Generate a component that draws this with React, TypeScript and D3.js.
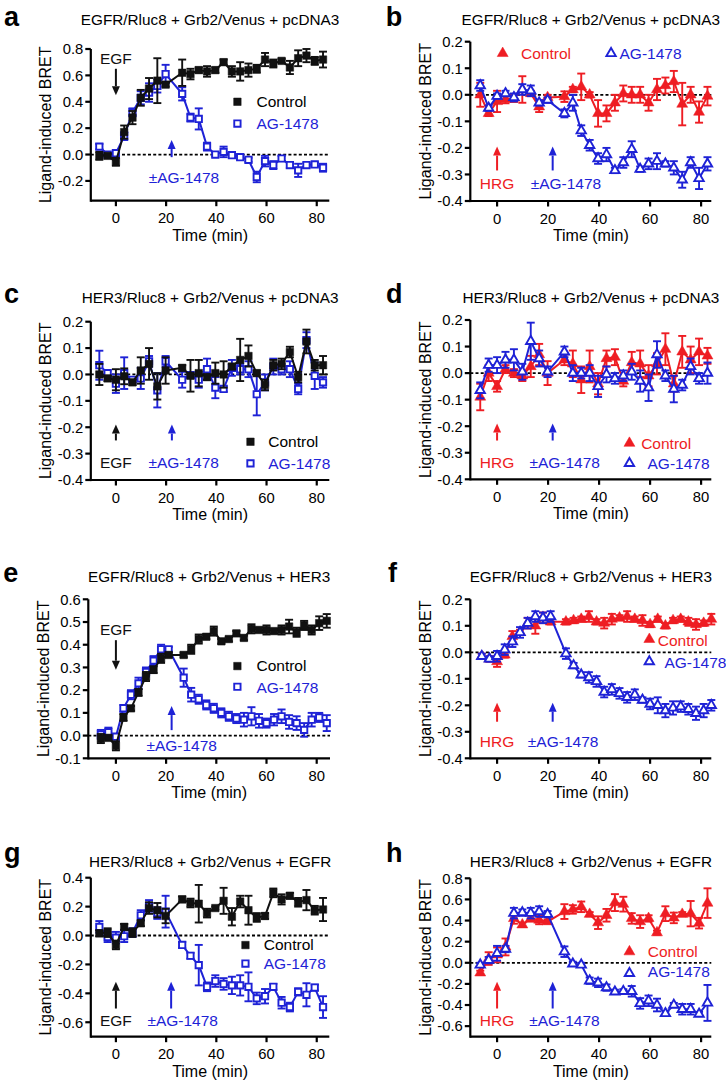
import * as d3 from "d3";

const FONT = "'Liberation Sans', Arial, Helvetica, sans-serif";
const BLACK = "#111111";
const RED = "#ee1d23";
const BLUE = "#1e22d6";

// sampling times (min); no reading while the inhibitor was added
const T_33 = [-6.6, -3.3, 0, 3.3, 6.6, 9.9, 13.2, 16.5, 19.8, 26.4, 29.7, 33, 36.3, 39.6, 42.9, 46.2, 49.5, 52.8, 56.1, 59.4, 62.7, 66, 69.3, 72.6, 75.9, 79.2, 82.5];
const T_3 = [-6, -3, 0, 3, 6, 9, 12, 15, 18, 21, 27, 30, 33, 36, 39, 42, 45, 48, 51, 54, 57, 60, 63, 66, 69, 72, 75, 78, 81, 84];
const X_TICKS = [0, 20, 40, 60, 80];

// a: EGFR/Rluc8 + Grb2/Venus + pcDNA3, EGF
const A_CTRL = [-0.01, -0.01, -0.055, 0.17, 0.28, 0.43, 0.5, 0.56, 0.53, 0.62, 0.61, 0.64, 0.63, 0.64, 0.7, 0.63, 0.63, 0.64, 0.65, 0.72, 0.69, 0.71, 0.66, 0.73, 0.75, 0.71, 0.72];
const A_CTRL_ERR = [0.03, 0.015, 0.03, 0.05, 0.05, 0.06, 0.08, 0.17, 0.015, 0.1, 0.04, 0.02, 0.04, 0.02, 0.02, 0.04, 0.07, 0.05, 0.03, 0.05, 0.03, 0.015, 0.05, 0.06, 0.05, 0.03, 0.06];
const A_AG = [0.06, 0.0, 0.01, 0.14, 0.32, 0.43, 0.47, 0.52, 0.61, 0.46, 0.28, 0.27, 0.06, 0.0, 0.02, -0.005, -0.02, -0.04, -0.17, -0.05, -0.08, -0.03, -0.08, -0.12, -0.08, -0.075, -0.1];
const A_AG_ERR = [0.02, 0.015, 0.015, 0.03, 0.03, 0.05, 0.07, 0.05, 0.07, 0.05, 0.03, 0.08, 0.03, 0.015, 0.04, 0.015, 0.015, 0.015, 0.04, 0.04, 0.03, 0.02, 0.02, 0.05, 0.015, 0.015, 0.03];
const A_TICKS = [-0.2, 0, 0.2, 0.4, 0.6, 0.8];

// b: EGFR/Rluc8 + Grb2/Venus + pcDNA3, HRG
const B_CTRL = [0.0, -0.07, -0.025, -0.017, -0.012, 0.02, 0.005, -0.045, -0.01, -0.007, 0.02, 0.03, 0.0, -0.07, -0.07, -0.03, 0.005, 0.0, 0.0, -0.03, 0.02, 0.035, 0.05, -0.035, 0.0, -0.065, -0.005];
const B_CTRL_ERR = [0.045, 0.01, 0.04, 0.015, 0.015, 0.05, 0.01, 0.02, 0.01, 0.02, 0.01, 0.05, 0.01, 0.05, 0.03, 0.03, 0.03, 0.03, 0.03, 0.03, 0.04, 0.03, 0.04, 0.08, 0.03, 0.04, 0.035];
const B_AG = [0.035, -0.05, -0.005, 0.005, -0.01, 0.02, 0.015, -0.03, -0.02, -0.07, -0.03, -0.135, -0.19, -0.24, -0.225, -0.285, -0.255, -0.205, -0.28, -0.26, -0.25, -0.26, -0.275, -0.32, -0.255, -0.315, -0.26];
const B_AG_ERR = [0.02, 0.01, 0.01, 0.01, 0.015, 0.02, 0.02, 0.01, 0.01, 0.015, 0.03, 0.02, 0.02, 0.02, 0.025, 0.01, 0.02, 0.03, 0.01, 0.02, 0.03, 0.01, 0.025, 0.03, 0.02, 0.04, 0.025];

// c: HER3/Rluc8 + Grb2/Venus + pcDNA3, EGF
const C_CTRL = [0.0, -0.015, -0.02, -0.007, -0.03, 0.015, 0.04, -0.045, 0.015, 0.025, -0.005, 0.005, -0.01, 0.005, 0.0, 0.03, 0.055, 0.07, 0.005, -0.04, 0.035, 0.04, 0.085, -0.01, 0.125, 0.035, 0.035];
const C_CTRL_ERR = [0.04, 0.01, 0.04, 0.03, 0.01, 0.05, 0.06, 0.05, 0.05, 0.01, 0.06, 0.05, 0.01, 0.04, 0.05, 0.01, 0.08, 0.04, 0.01, 0.02, 0.02, 0.02, 0.02, 0.02, 0.045, 0.02, 0.035];
const C_AG = [0.035, 0.005, -0.035, 0.005, -0.02, -0.015, 0.05, -0.06, 0.05, -0.02, -0.002, -0.02, 0.02, -0.05, -0.055, 0.025, 0.02, 0.02, -0.075, -0.03, 0.03, 0.02, 0.02, -0.055, 0.13, -0.005, -0.03];
const C_AG_ERR = [0.055, 0.01, 0.035, 0.06, 0.01, 0.04, 0.02, 0.065, 0.02, 0.03, 0.01, 0.03, 0.04, 0.04, 0.01, 0.03, 0.02, 0.03, 0.08, 0.03, 0.03, 0.02, 0.03, 0.02, 0.03, 0.05, 0.02];

// d: HER3/Rluc8 + Grb2/Venus + pcDNA3, HRG
const D_CTRL = [-0.09, 0.0, -0.05, 0.015, 0.0, -0.01, 0.025, 0.07, 0.0, 0.05, 0.035, -0.025, 0.025, -0.04, 0.055, 0.06, -0.03, 0.04, 0.035, -0.01, 0.035, 0.09, -0.04, 0.08, 0.05, 0.08, 0.065];
const D_CTRL_ERR = [0.05, 0.03, 0.02, 0.015, 0.015, 0.02, 0.04, 0.04, 0.045, 0.02, 0.05, 0.05, 0.06, 0.04, 0.03, 0.03, 0.02, 0.04, 0.05, 0.04, 0.04, 0.06, 0.03, 0.06, 0.05, 0.05, 0.03];
const D_AG = [-0.065, 0.03, 0.03, 0.05, 0.05, 0.005, 0.12, 0.055, 0.005, 0.08, 0.0, 0.0, 0.0, -0.05, -0.005, -0.02, -0.01, 0.005, -0.03, -0.055, 0.07, -0.01, -0.06, -0.045, 0.025, -0.02, 0.0];
const D_AG_ERR = [0.03, 0.025, 0.03, 0.03, 0.04, 0.03, 0.07, 0.03, 0.02, 0.02, 0.03, 0.02, 0.03, 0.04, 0.03, 0.02, 0.02, 0.03, 0.04, 0.05, 0.05, 0.02, 0.05, 0.02, 0.03, 0.02, 0.04];
const SMALL_TICKS = [-0.4, -0.3, -0.2, -0.1, 0, 0.1, 0.2];

// e: EGFR/Rluc8 + Grb2/Venus + HER3, EGF
const E_CTRL = [-0.013, -0.01, -0.045, 0.08, 0.12, 0.19, 0.26, 0.29, 0.34, 0.355, 0.355, 0.38, 0.425, 0.435, 0.46, 0.415, 0.425, 0.45, 0.43, 0.47, 0.465, 0.465, 0.46, 0.465, 0.48, 0.455, 0.485, 0.465, 0.495, 0.505];
const E_CTRL_ERR = [0.02, 0.01, 0.02, 0.015, 0.01, 0.015, 0.02, 0.015, 0.02, 0.01, 0.01, 0.02, 0.02, 0.01, 0.02, 0.01, 0.01, 0.01, 0.01, 0.02, 0.01, 0.02, 0.01, 0.02, 0.03, 0.02, 0.02, 0.02, 0.03, 0.03];
const E_AG = [0.005, 0.015, -0.005, 0.12, 0.18, 0.23, 0.28, 0.33, 0.38, 0.38, 0.255, 0.18, 0.16, 0.135, 0.12, 0.1, 0.085, 0.075, 0.07, 0.085, 0.065, 0.055, 0.07, 0.085, 0.06, 0.055, 0.025, 0.07, 0.08, 0.055];
const E_AG_ERR = [0.02, 0.02, 0.01, 0.015, 0.02, 0.025, 0.02, 0.02, 0.02, 0.01, 0.04, 0.03, 0.02, 0.02, 0.02, 0.02, 0.02, 0.02, 0.03, 0.04, 0.03, 0.02, 0.025, 0.03, 0.03, 0.03, 0.03, 0.03, 0.02, 0.035];
const E_TICKS = [-0.1, 0, 0.1, 0.2, 0.3, 0.4, 0.5, 0.6];

// f: EGFR/Rluc8 + Grb2/Venus + HER3, HRG
const F_CTRL = [-0.015, -0.025, -0.035, -0.01, 0.06, 0.075, 0.11, 0.1, 0.13, 0.115, 0.115, 0.12, 0.125, 0.135, 0.115, 0.11, 0.125, 0.13, 0.135, 0.125, 0.12, 0.105, 0.125, 0.1, 0.12, 0.125, 0.115, 0.105, 0.11, 0.125];
const F_CTRL_ERR = [0.01, 0.01, 0.02, 0.01, 0.02, 0.01, 0.02, 0.03, 0.02, 0.01, 0.01, 0.01, 0.01, 0.02, 0.01, 0.02, 0.02, 0.01, 0.02, 0.01, 0.02, 0.01, 0.01, 0.01, 0.01, 0.01, 0.015, 0.02, 0.01, 0.02];
const F_AG = [-0.015, -0.025, -0.015, 0.01, 0.04, 0.075, 0.11, 0.135, 0.13, 0.135, -0.005, -0.05, -0.085, -0.095, -0.11, -0.15, -0.14, -0.155, -0.17, -0.16, -0.18, -0.195, -0.2, -0.22, -0.21, -0.205, -0.215, -0.23, -0.22, -0.2];
const F_AG_ERR = [0.01, 0.01, 0.02, 0.02, 0.02, 0.02, 0.02, 0.02, 0.02, 0.02, 0.02, 0.01, 0.01, 0.02, 0.02, 0.02, 0.02, 0.02, 0.02, 0.02, 0.01, 0.02, 0.03, 0.025, 0.025, 0.02, 0.02, 0.025, 0.025, 0.02];

// g: HER3/Rluc8 + Grb2/Venus + EGFR, EGF
const G_CTRL = [0.015, 0.02, -0.065, 0.06, 0.02, 0.085, 0.19, 0.175, 0.135, 0.25, 0.225, 0.22, 0.155, 0.19, 0.24, 0.13, 0.235, 0.175, 0.125, 0.135, 0.295, 0.25, 0.275, 0.23, 0.245, 0.175, 0.18];
const G_CTRL_ERR = [0.02, 0.03, 0.03, 0.02, 0.03, 0.02, 0.04, 0.05, 0.05, 0.02, 0.03, 0.13, 0.03, 0.01, 0.09, 0.06, 0.04, 0.1, 0.03, 0.02, 0.03, 0.035, 0.02, 0.03, 0.07, 0.03, 0.08];
const G_AG = [0.06, -0.01, -0.015, -0.005, 0.02, 0.14, 0.205, 0.155, 0.165, -0.065, -0.14, -0.205, -0.355, -0.315, -0.335, -0.345, -0.345, -0.355, -0.435, -0.42, -0.355, -0.465, -0.495, -0.39, -0.41, -0.36, -0.495];
const G_AG_ERR = [0.04, 0.035, 0.04, 0.04, 0.03, 0.035, 0.04, 0.04, 0.11, 0.02, 0.02, 0.14, 0.03, 0.04, 0.04, 0.06, 0.07, 0.1, 0.04, 0.05, 0.02, 0.04, 0.03, 0.025, 0.08, 0.02, 0.075];
const G_TICKS = [-0.6, -0.4, -0.2, 0, 0.2, 0.4];

// h: HER3/Rluc8 + Grb2/Venus + EGFR, HRG
const H_CTRL = [-0.095, 0.04, 0.075, 0.15, 0.42, 0.36, 0.42, 0.405, 0.39, 0.485, 0.505, 0.53, 0.46, 0.38, 0.45, 0.57, 0.555, 0.42, 0.39, 0.42, 0.285, 0.465, 0.425, 0.46, 0.465, 0.375, 0.565];
const H_CTRL_ERR = [0.02, 0.06, 0.07, 0.08, 0.05, 0.02, 0.03, 0.04, 0.02, 0.07, 0.04, 0.05, 0.02, 0.06, 0.06, 0.08, 0.07, 0.05, 0.06, 0.03, 0.02, 0.07, 0.05, 0.02, 0.12, 0.05, 0.14];
const H_AG = [-0.02, 0.025, 0.09, 0.13, 0.47, 0.475, 0.47, 0.485, 0.46, 0.105, -0.01, -0.02, -0.17, -0.19, -0.235, -0.275, -0.27, -0.27, -0.385, -0.36, -0.4, -0.48, -0.4, -0.44, -0.44, -0.485, -0.38];
const H_AG_ERR = [0.02, 0.03, 0.07, 0.03, 0.05, 0.03, 0.05, 0.05, 0.03, 0.05, 0.02, 0.02, 0.03, 0.04, 0.03, 0.02, 0.02, 0.05, 0.05, 0.05, 0.06, 0.02, 0.02, 0.05, 0.05, 0.02, 0.17];
const H_TICKS = [-0.6, -0.4, -0.2, 0, 0.2, 0.4, 0.6, 0.8];

type Label = { text: string; color: string; x: number; y: number };
type Arrow = { color: string; x: number; from: number; to: number };
type Legend = { mx: number; my: number; tx: number; ty: number };

type Panel = {
  letter: string;
  letterPos: [number, number];
  title: string;
  titleY: number;
  xDomain: [number, number];
  xRange: [number, number];
  yDomain: [number, number];
  yRange: [number, number];
  yTicks: number[];
  time: number[];
  ctrl: number[];
  ctrlErr: number[];
  ag: number[];
  agErr: number[];
  ctrlColor: string;
  shape: "square" | "triangle";
  labels: Label[];
  arrows: Arrow[];
  legCtrl: Legend;
  legAg: Legend;
};

const LEFT_X: [number, number] = [90.8, 329.3];
const RIGHT_X: [number, number] = [470.3, 711.3];

const panels: Panel[] = [
  {
    letter: "a", letterPos: [4, 26], title: "EGFR/Rluc8 + Grb2/Venus + pcDNA3", titleY: 25,
    xDomain: [-10, 85], xRange: LEFT_X, yDomain: [-0.35, 0.8], yRange: [200.7, 49], yTicks: A_TICKS,
    time: T_33, ctrl: A_CTRL, ctrlErr: A_CTRL_ERR, ag: A_AG, agErr: A_AG_ERR, ctrlColor: BLACK, shape: "square",
    labels: [
      { text: "EGF", color: BLACK, x: 0, y: 0.69 },
      { text: "±AG-1478", color: BLUE, x: 27.1, y: -0.215 },
    ],
    arrows: [
      { color: BLACK, x: 0, from: 0.65, to: 0.45 },
      { color: BLUE, x: 22.2, from: -0.02, to: 0.11 },
    ],
    legCtrl: { mx: 48.4, my: 0.4, tx: 56, ty: 0.36 },
    legAg: { mx: 48.4, my: 0.235, tx: 56, ty: 0.197 },
  },
  {
    letter: "b", letterPos: [385.7, 26], title: "EGFR/Rluc8 + Grb2/Venus + pcDNA3", titleY: 25,
    xDomain: [-10.5, 84], xRange: RIGHT_X, yDomain: [-0.4, 0.2], yRange: [201, 41.7], yTicks: SMALL_TICKS,
    time: T_33, ctrl: B_CTRL, ctrlErr: B_CTRL_ERR, ag: B_AG, agErr: B_AG_ERR, ctrlColor: RED, shape: "triangle",
    labels: [
      { text: "HRG", color: RED, x: 0, y: -0.356 },
      { text: "±AG-1478", color: BLUE, x: 27, y: -0.356 },
    ],
    arrows: [
      { color: RED, x: 0, from: -0.285, to: -0.195 },
      { color: BLUE, x: 21.8, from: -0.285, to: -0.195 },
    ],
    legCtrl: { mx: 2.2, my: 0.156, tx: 9.4, ty: 0.133 },
    legAg: { mx: 44.7, my: 0.156, tx: 48, ty: 0.133 },
  },
  {
    letter: "c", letterPos: [4, 303], title: "HER3/Rluc8 + Grb2/Venus + pcDNA3", titleY: 302.5,
    xDomain: [-10, 85], xRange: LEFT_X, yDomain: [-0.4, 0.2], yRange: [480, 321.7], yTicks: SMALL_TICKS,
    time: T_33, ctrl: C_CTRL, ctrlErr: C_CTRL_ERR, ag: C_AG, agErr: C_AG_ERR, ctrlColor: BLACK, shape: "square",
    labels: [
      { text: "EGF", color: BLACK, x: 0, y: -0.355 },
      { text: "±AG-1478", color: BLUE, x: 27, y: -0.355 },
    ],
    arrows: [
      { color: BLACK, x: 0, from: -0.25, to: -0.19 },
      { color: BLUE, x: 22.3, from: -0.25, to: -0.19 },
    ],
    legCtrl: { mx: 53.6, my: -0.255, tx: 60.7, ty: -0.276 },
    legAg: { mx: 53.6, my: -0.337, tx: 60.7, ty: -0.358 },
  },
  {
    letter: "d", letterPos: [386, 303], title: "HER3/Rluc8 + Grb2/Venus + pcDNA3", titleY: 302.5,
    xDomain: [-10.5, 84], xRange: RIGHT_X, yDomain: [-0.4, 0.2], yRange: [479.3, 320], yTicks: SMALL_TICKS,
    time: T_33, ctrl: D_CTRL, ctrlErr: D_CTRL_ERR, ag: D_AG, agErr: D_AG_ERR, ctrlColor: RED, shape: "triangle",
    labels: [
      { text: "HRG", color: RED, x: 0, y: -0.358 },
      { text: "±AG-1478", color: BLUE, x: 26.5, y: -0.358 },
    ],
    arrows: [
      { color: RED, x: 0, from: -0.254, to: -0.19 },
      { color: BLUE, x: 21.8, from: -0.254, to: -0.19 },
    ],
    legCtrl: { mx: 51.9, my: -0.264, tx: 56.5, ty: -0.286 },
    legAg: { mx: 51.9, my: -0.34, tx: 59, ty: -0.361 },
  },
  {
    letter: "e", letterPos: [3.3, 582], title: "EGFR/Rluc8 + Grb2/Venus + HER3", titleY: 581.7,
    xDomain: [-11, 85.3], xRange: [88.3, 330], yDomain: [-0.1, 0.6], yRange: [758.3, 599.3], yTicks: E_TICKS,
    time: T_3, ctrl: E_CTRL, ctrlErr: E_CTRL_ERR, ag: E_AG, agErr: E_AG_ERR, ctrlColor: BLACK, shape: "square",
    labels: [
      { text: "EGF", color: BLACK, x: 0, y: 0.443 },
      { text: "±AG-1478", color: BLUE, x: 26.2, y: -0.067 },
    ],
    arrows: [
      { color: BLACK, x: 0, from: 0.42, to: 0.29 },
      { color: BLUE, x: 22.2, from: 0.024, to: 0.13 },
    ],
    legCtrl: { mx: 48.4, my: 0.306, tx: 56, ty: 0.284 },
    legAg: { mx: 48.4, my: 0.215, tx: 56, ty: 0.189 },
  },
  {
    letter: "f", letterPos: [388, 582], title: "EGFR/Rluc8 + Grb2/Venus + HER3", titleY: 581.7,
    xDomain: [-10.5, 84], xRange: RIGHT_X, yDomain: [-0.4, 0.2], yRange: [758.3, 599.3], yTicks: SMALL_TICKS,
    time: T_3, ctrl: F_CTRL, ctrlErr: F_CTRL_ERR, ag: F_AG, agErr: F_AG_ERR, ctrlColor: RED, shape: "triangle",
    labels: [
      { text: "HRG", color: RED, x: 0, y: -0.356 },
      { text: "±AG-1478", color: BLUE, x: 25.9, y: -0.356 },
    ],
    arrows: [
      { color: RED, x: 0, from: -0.262, to: -0.19 },
      { color: BLUE, x: 21.8, from: -0.262, to: -0.19 },
    ],
    legCtrl: { mx: 59.7, my: 0.049, tx: 63, ty: 0.024 },
    legAg: { mx: 59.7, my: -0.035, tx: 65.6, ty: -0.06 },
  },
  {
    letter: "g", letterPos: [4, 862], title: "HER3/Rluc8 + Grb2/Venus + EGFR", titleY: 866.7,
    xDomain: [-10, 85], xRange: LEFT_X, yDomain: [-0.7, 0.4], yRange: [1036.7, 877.7], yTicks: G_TICKS,
    time: T_33, ctrl: G_CTRL, ctrlErr: G_CTRL_ERR, ag: G_AG, agErr: G_AG_ERR, ctrlColor: BLACK, shape: "square",
    labels: [
      { text: "EGF", color: BLACK, x: 0, y: -0.627 },
      { text: "±AG-1478", color: BLUE, x: 26.6, y: -0.627 },
    ],
    arrows: [
      { color: BLACK, x: 0, from: -0.505, to: -0.32 },
      { color: BLUE, x: 22, from: -0.505, to: -0.32 },
    ],
    legCtrl: { mx: 51.6, my: -0.066, tx: 58.9, ty: -0.101 },
    legAg: { mx: 51.6, my: -0.194, tx: 58.9, ty: -0.233 },
  },
  {
    letter: "h", letterPos: [386, 862], title: "HER3/Rluc8 + Grb2/Venus + EGFR", titleY: 866.7,
    xDomain: [-10.5, 84], xRange: RIGHT_X, yDomain: [-0.7, 0.8], yRange: [1036.7, 878.3], yTicks: H_TICKS,
    time: T_33, ctrl: H_CTRL, ctrlErr: H_CTRL_ERR, ag: H_AG, agErr: H_AG_ERR, ctrlColor: RED, shape: "triangle",
    labels: [
      { text: "HRG", color: RED, x: 0, y: -0.6 },
      { text: "±AG-1478", color: BLUE, x: 26.4, y: -0.6 },
    ],
    arrows: [
      { color: RED, x: 0, from: -0.433, to: -0.18 },
      { color: BLUE, x: 21.8, from: -0.433, to: -0.18 },
    ],
    legCtrl: { mx: 51.9, my: 0.105, tx: 59.1, ty: 0.057 },
    legAg: { mx: 51.9, my: -0.1, tx: 59.1, ty: -0.139 },
  },
];

const squarePath = d3.symbol().type(d3.symbolSquare).size(56)() as string;
const openSquarePath = d3.symbol().type(d3.symbolSquare).size(40)() as string;
const trianglePath = d3.symbol().type(d3.symbolTriangle).size(52)() as string;
const openTrianglePath = d3.symbol().type(d3.symbolTriangle).size(38)() as string;

function Marker({ x, y, shape, filled, color }: { x: number; y: number; shape: string; filled: boolean; color: string }) {
  const d = shape === "square" ? (filled ? squarePath : openSquarePath) : filled ? trianglePath : openTrianglePath;
  return (
    <path
      d={d}
      transform={`translate(${x},${y})`}
      fill={filled ? color : "#fff"}
      stroke={color}
      strokeWidth={filled ? 0.5 : 1.9}
    />
  );
}

const fmt = (v: number) => (Math.abs(v) < 1e-9 ? "0.0" : v.toFixed(1));

function Series({ p, x, y, vals, errs, color, filled }: any) {
  const n = Math.min(p.time.length, vals.length);
  const idx = d3.range(n);
  const line = d3
    .line<number>()
    .x((i) => x(p.time[i]))
    .y((i) => y(vals[i]));
  return (
    <g>
      <path d={line(idx) || ""} fill="none" stroke={color} strokeWidth={2} />
      {idx.map((i) => {
        const cx = x(p.time[i]);
        const hi = y(vals[i] + errs[i]);
        const lo = y(vals[i] - errs[i]);
        return (
          <g key={i} stroke={color} strokeWidth={1.9}>
            <line x1={cx} x2={cx} y1={hi} y2={lo} />
            <line x1={cx - 4} x2={cx + 4} y1={hi} y2={hi} />
            <line x1={cx - 4} x2={cx + 4} y1={lo} y2={lo} />
          </g>
        );
      })}
      {idx.map((i) => (
        <Marker key={i} x={x(p.time[i])} y={y(vals[i])} shape={p.shape} filled={filled} color={color} />
      ))}
    </g>
  );
}

function PanelView({ p }: { p: Panel }) {
  const x = d3.scaleLinear().domain(p.xDomain).range(p.xRange);
  const y = d3.scaleLinear().domain(p.yDomain).range(p.yRange);
  const [x0, x1] = p.xRange;
  const [yb, yt] = p.yRange;
  const cx = (x0 + x1) / 2;
  const cy = (yb + yt) / 2;
  const ctrl = <Series p={p} x={x} y={y} vals={p.ctrl} errs={p.ctrlErr} color={p.ctrlColor} filled={true} />;
  const ag = <Series p={p} x={x} y={y} vals={p.ag} errs={p.agErr} color={BLUE} filled={false} />;
  return (
    <g fontFamily={FONT}>
      <text x={p.letterPos[0]} y={p.letterPos[1]} fontSize={27} fontWeight="bold" fill="#000">
        {p.letter}
      </text>
      <text x={cx} y={p.titleY} fontSize={15.3} textAnchor="middle" fill="#000">
        {p.title}
      </text>

      <line x1={x0} x2={x1} y1={y(0)} y2={y(0)} stroke="#000" strokeWidth={1.8} strokeDasharray="3,2.2" />

      {p.ctrlColor === BLACK ? (
        <>
          {ag}
          {ctrl}
        </>
      ) : (
        <>
          {ctrl}
          {ag}
        </>
      )}

      {/* axes */}
      <g stroke="#000" strokeWidth={2.2}>
        <line x1={x0} x2={x0} y1={yb + 1.1} y2={yt} />
        <line x1={x0} x2={x1} y1={yb} y2={yb} />
        {p.yTicks.map((t) => (
          <line key={t} x1={x0 - 5.5} x2={x0} y1={y(t)} y2={y(t)} />
        ))}
        {X_TICKS.map((t) => (
          <line key={t} x1={x(t)} x2={x(t)} y1={yb} y2={yb + 5.5} />
        ))}
      </g>
      {p.yTicks.map((t) => (
        <text key={t} x={x0 - 7.5} y={y(t)} dy="0.36em" fontSize={14.8} textAnchor="end" fill="#000">
          {fmt(t)}
        </text>
      ))}
      {X_TICKS.map((t) => (
        <text key={t} x={x(t)} y={yb + 22.5} fontSize={14.8} textAnchor="middle" fill="#000">
          {t}
        </text>
      ))}
      <text x={cx} y={yb + 40} fontSize={16} textAnchor="middle" fill="#000">
        Time (min)
      </text>
      <text
        transform={`translate(${x0 - 45.5},${cy}) rotate(-90)`}
        dy="0.36em"
        fontSize={16}
        textAnchor="middle"
        fill="#000"
      >
        Ligand-induced BRET
      </text>

      {/* stimulus arrows */}
      {p.arrows.map((a, i) => {
        const ax = x(a.x);
        const yFrom = y(a.from);
        const yTo = y(a.to);
        const dir = yTo < yFrom ? 1 : -1; // 1 = pointing up
        const headBase = yTo + dir * 9;
        return (
          <g key={i}>
            <line x1={ax} x2={ax} y1={yFrom} y2={headBase} stroke={a.color} strokeWidth={2} />
            <path d={`M${ax},${yTo}L${ax - 4},${headBase}L${ax + 4},${headBase}Z`} fill={a.color} />
          </g>
        );
      })}
      {p.labels.map((l, i) => (
        <text key={i} x={x(l.x)} y={y(l.y)} fontSize={15.5} textAnchor="middle" fill={l.color}>
          {l.text}
        </text>
      ))}

      {/* legend */}
      <Marker x={x(p.legCtrl.mx)} y={y(p.legCtrl.my)} shape={p.shape} filled={true} color={p.ctrlColor} />
      <text x={x(p.legCtrl.tx)} y={y(p.legCtrl.ty)} fontSize={15.5} fill={p.ctrlColor === BLACK ? "#000" : RED}>
        Control
      </text>
      <Marker x={x(p.legAg.mx)} y={y(p.legAg.my)} shape={p.shape} filled={false} color={BLUE} />
      <text x={x(p.legAg.tx)} y={y(p.legAg.ty)} fontSize={15.5} fill={BLUE}>
        AG-1478
      </text>
    </g>
  );
}

export default function App() {
  return (
    <div style={{ position: "absolute", left: 0, top: 0 }}>
      <svg width={726} height={1087} viewBox="0 0 726 1087" style={{ display: "block", background: "#fff" }}>
        {panels.map((p) => (
          <PanelView key={p.letter} p={p} />
        ))}
      </svg>
    </div>
  );
}
